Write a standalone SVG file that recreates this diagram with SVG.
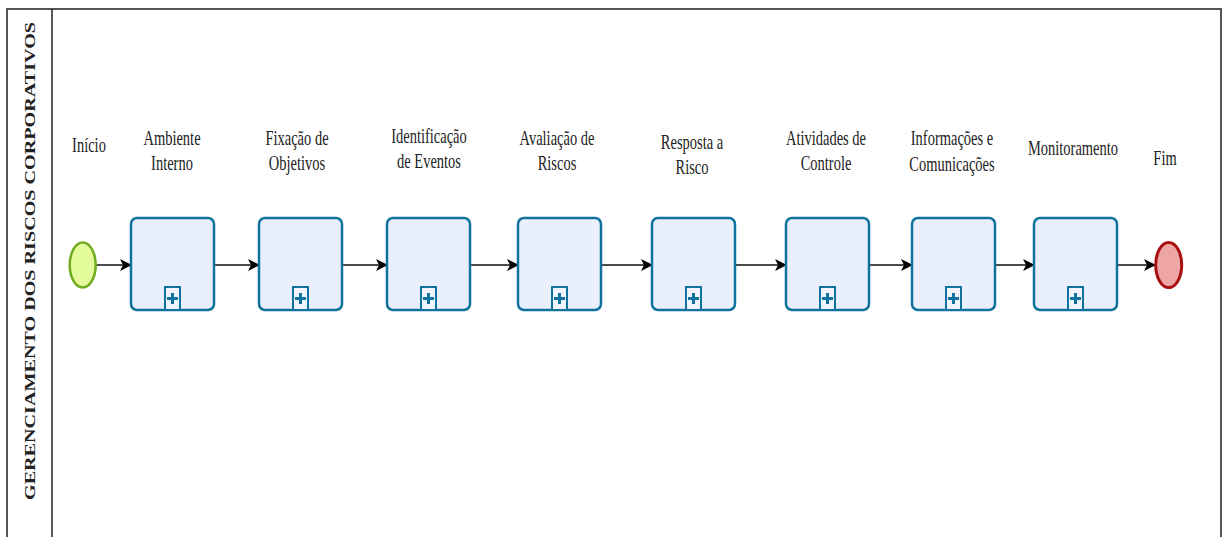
<svg xmlns="http://www.w3.org/2000/svg" width="1223" height="537" viewBox="0 0 1223 537">
  <style>
    .lbl { font-family: "Liberation Serif", "Times New Roman", serif; font-size: 21px; fill: #222; text-anchor: middle; }
    .title { font-family: "Liberation Serif", "Times New Roman", serif; font-size: 21px; font-weight: bold; fill: #222; text-anchor: middle; }
    .task { fill: #eaeffd; stroke: #10739e; stroke-width: 2.5; }
    .sub { fill: #f2f5ff; stroke: #10739e; stroke-width: 2; }
    .plus { stroke: #10739e; stroke-width: 3; }
    .flow { stroke: #111; stroke-width: 1.6; fill: none; marker-end: url(#arr); }
  </style>
  <defs>
    <marker id="arr" viewBox="0 0 12 12" refX="11" refY="6" markerWidth="12" markerHeight="12" markerUnits="userSpaceOnUse" orient="auto">
      <path d="M0,0 L12,6 L0,12 L3,6 Z" fill="#000"/>
    </marker>
    <g id="task">
      <rect class="task" x="0" y="0" width="83" height="92" rx="6"/>
      <rect class="sub" x="34" y="69" width="15" height="23"/>
      <line class="plus" x1="41.5" y1="75" x2="41.5" y2="86"/>
      <line class="plus" x1="36" y1="80.5" x2="47" y2="80.5"/>
    </g>
  </defs>

  <!-- pool and lane header -->
  <g id="pool">
    <rect x="7" y="9" width="1214" height="540" fill="#fff" stroke="#555" stroke-width="2"/>
    <line x1="52" y1="9" x2="52" y2="537" stroke="#222" stroke-width="1.5"/>
    <text class="title" transform="translate(35 261) scale(0.69 1) rotate(-90)" textLength="478" lengthAdjust="spacingAndGlyphs">GERENCIAMENTO DOS RISCOS CORPORATIVOS</text>
  </g>

  <!-- sequence flows -->
  <g id="connectors">
    <line class="flow" x1="96" y1="265" x2="131" y2="265"/>
    <line class="flow" x1="214" y1="265" x2="259" y2="265"/>
    <line class="flow" x1="342" y1="265" x2="387" y2="265"/>
    <line class="flow" x1="470" y1="265" x2="518" y2="265"/>
    <line class="flow" x1="601" y1="265" x2="652" y2="265"/>
    <line class="flow" x1="735" y1="265" x2="786" y2="265"/>
    <line class="flow" x1="869" y1="265" x2="912" y2="265"/>
    <line class="flow" x1="995" y1="265" x2="1034" y2="265"/>
    <line class="flow" x1="1117" y1="265" x2="1155" y2="265"/>
  </g>

  <g id="inicio">
    <ellipse cx="82.7" cy="265" rx="13" ry="22.5" fill="#e4fb9c" stroke="#6fac1f" stroke-width="2.5"/>
    <text class="lbl" transform="translate(89 152) scale(0.69 1)">Início</text>
  </g>

  <g id="ambiente-interno">
    <use href="#task" x="131" y="218"/>
    <text class="lbl" transform="translate(172 145) scale(0.69 1)">Ambiente</text>
    <text class="lbl" transform="translate(172 170) scale(0.69 1)">Interno</text>
  </g>

  <g id="fixacao-objetivos">
    <use href="#task" x="259" y="218"/>
    <text class="lbl" transform="translate(297 145) scale(0.69 1)">Fixação de</text>
    <text class="lbl" transform="translate(297 170) scale(0.69 1)">Objetivos</text>
  </g>

  <g id="identificacao-eventos">
    <use href="#task" x="387" y="218"/>
    <text class="lbl" transform="translate(429 143) scale(0.69 1)">Identificação</text>
    <text class="lbl" transform="translate(429 168) scale(0.69 1)">de Eventos</text>
  </g>

  <g id="avaliacao-riscos">
    <use href="#task" x="518" y="218"/>
    <text class="lbl" transform="translate(557 145) scale(0.69 1)">Avaliação de</text>
    <text class="lbl" transform="translate(557 170) scale(0.69 1)">Riscos</text>
  </g>

  <g id="resposta-risco">
    <use href="#task" x="652" y="218"/>
    <text class="lbl" transform="translate(692 149) scale(0.69 1)">Resposta a</text>
    <text class="lbl" transform="translate(692 174) scale(0.69 1)">Risco</text>
  </g>

  <g id="atividades-controle">
    <use href="#task" x="786" y="218"/>
    <text class="lbl" transform="translate(826 145) scale(0.69 1)">Atividades de</text>
    <text class="lbl" transform="translate(826 170) scale(0.69 1)">Controle</text>
  </g>

  <g id="informacoes-comunicacoes">
    <use href="#task" x="912" y="218"/>
    <text class="lbl" transform="translate(952 145) scale(0.69 1)">Informações e</text>
    <text class="lbl" transform="translate(952 171) scale(0.69 1)">Comunicações</text>
  </g>

  <g id="monitoramento">
    <use href="#task" x="1034" y="218"/>
    <text class="lbl" transform="translate(1073 155) scale(0.69 1)">Monitoramento</text>
  </g>

  <g id="fim">
    <ellipse cx="1168.7" cy="265" rx="13" ry="22.5" fill="#eea5a5" stroke="#a80f0f" stroke-width="3"/>
    <text class="lbl" transform="translate(1165 165) scale(0.69 1)">Fim</text>
  </g>
</svg>
